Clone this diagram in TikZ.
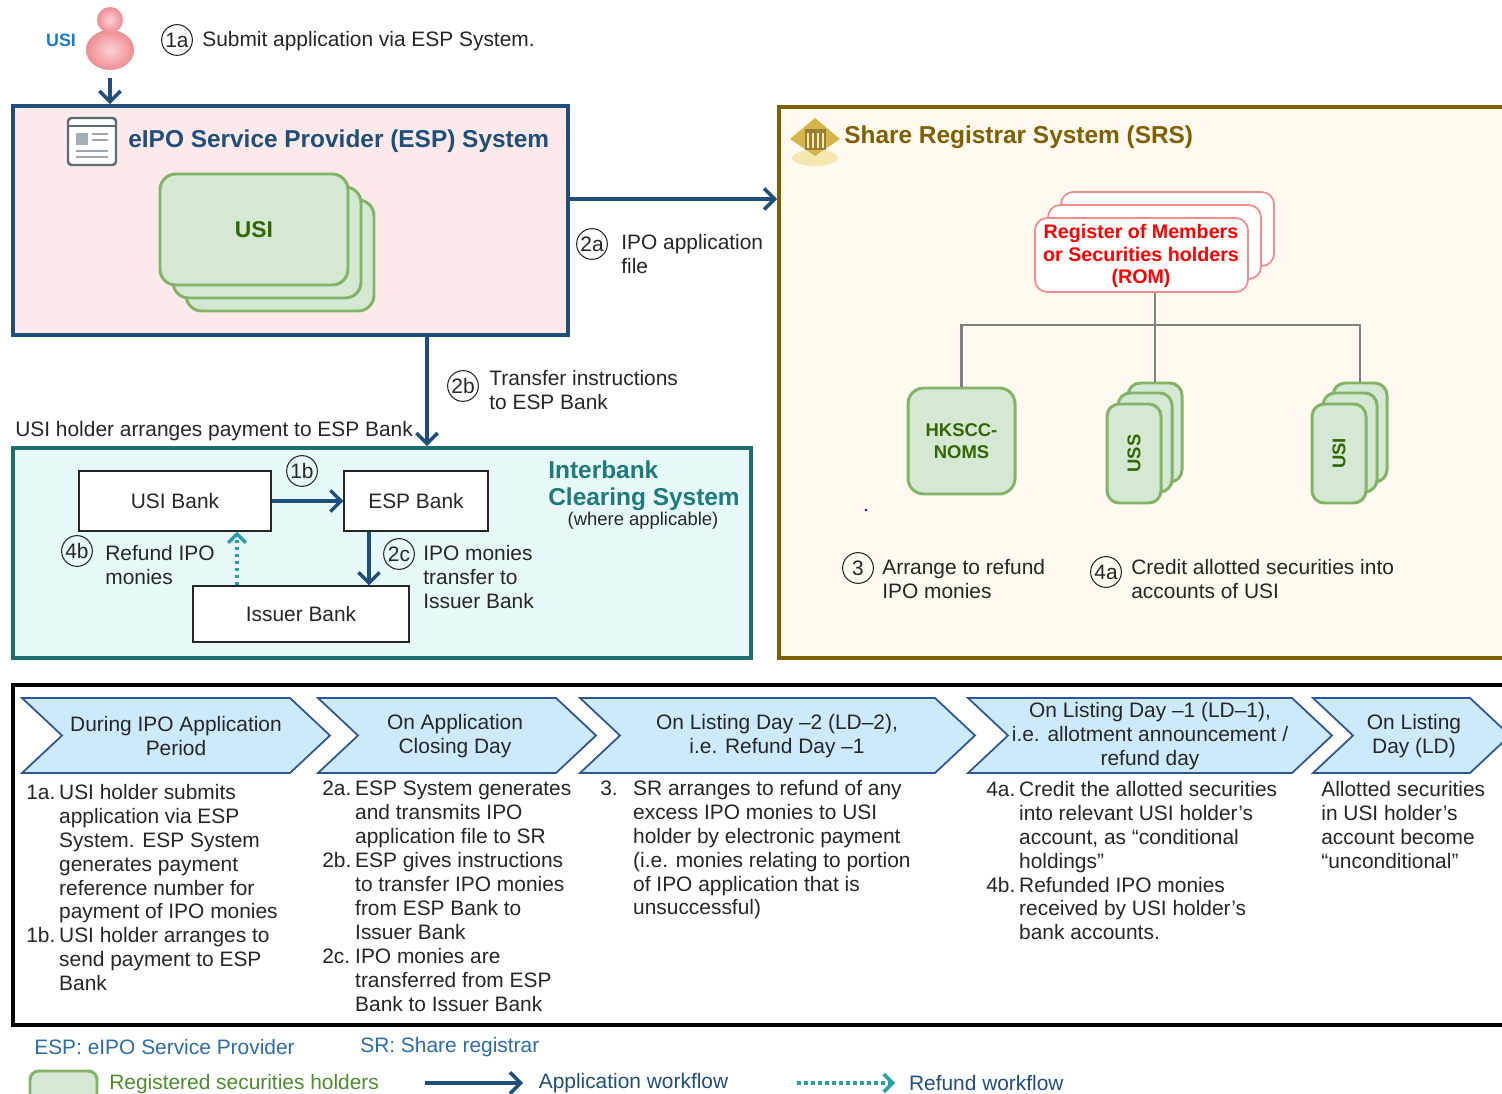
\documentclass[tikz,border=0pt]{standalone}
\usepackage{fontspec}
\setmainfont{Liberation Sans}
\usetikzlibrary{arrows.meta,fit}

\definecolor{espblue}{HTML}{1F4E79}
\definecolor{esppink}{HTML}{FDE9E9}
\definecolor{srsbrown}{HTML}{7F6000}
\definecolor{srscream}{HTML}{FFF9EF}
\definecolor{icteal}{HTML}{1E6E6E}
\definecolor{icfill}{HTML}{E7F8F8}
\definecolor{ictitle}{HTML}{1F7A7A}
\definecolor{reggreen}{HTML}{82B366}
\definecolor{regfill}{HTML}{D5E8D4}
\definecolor{regtext}{HTML}{336600}
\definecolor{romred}{HTML}{FF0000}
\definecolor{romline}{HTML}{F28C8C}
\definecolor{chevfill}{HTML}{CCEAFB}
\definecolor{chevline}{HTML}{2F5597}
\definecolor{refteal}{HTML}{26A0A6}
\definecolor{textgrey}{HTML}{262626}
\definecolor{usiblue}{HTML}{1F7BC4}
\definecolor{legblue}{HTML}{2E6DA4}
\definecolor{leggreen}{HTML}{4E8A2E}
\definecolor{treegrey}{HTML}{808080}
\definecolor{personpink}{HTML}{EE8C93}
\definecolor{personlight}{HTML}{FBD3D6}
\definecolor{icongrey}{HTML}{5B6B78}
\definecolor{gold}{HTML}{D6B548}
\definecolor{goldlight}{HTML}{F4E7B0}

\tikzset{
  txt/.style={font=\fontsize{11.9}{13.6}\selectfont, text=textgrey, inner sep=0pt},
  head/.style={font=\bfseries\fontsize{13.9}{15.3}\selectfont, inner sep=0pt},
  num/.style={circle, draw=textgrey, line width=0.6pt, minimum size=17.5pt, inner sep=0pt,
    font=\fontsize{11.9}{13.6}\selectfont, text=textgrey},
  appflow/.style={draw=espblue, line width=2pt, -{Straight Barb[length=6pt,width=12pt]}},
  refflow/.style={draw=refteal, line width=2pt, dotted, -{Straight Barb[length=5pt,width=10pt]}},
  espbox/.style={draw=espblue, fill=esppink, line width=2.2pt, inner sep=0pt},
  srsbox/.style={draw=srsbrown, fill=srscream, line width=2.2pt, inner sep=0pt},
  icbox/.style={draw=icteal, fill=icfill, line width=2.2pt, inner sep=0pt},
  bankbox/.style={draw=textgrey, fill=white, line width=0.6pt, inner sep=0pt},
  regbox/.style={draw=reggreen, fill=regfill, line width=1.7pt, rounded corners=9pt, inner sep=0pt},
  regtxt/.style={font=\bfseries\fontsize{10.5}{12.5}\selectfont, text=regtext, inner sep=0pt},
  rombox/.style={draw=romline, fill=white, line width=1pt, rounded corners=7pt, inner sep=0pt},
  tree/.style={draw=treegrey, line width=1.4pt},
  chev/.style={draw=chevline, fill=chevfill, line width=1pt},
  frame/.style={draw=black, line width=1.9pt, inner sep=0pt},
}
\newcommand\stepno[1]{\makebox[18.7pt][l]{#1}}
\newcommand\stepin{\hspace*{18.7pt}}

\begin{document}
\begin{tikzpicture}[x=0.02cm,y=-0.02cm]
\useasboundingbox (0,0) rectangle (1502,1094);
\clip (0,0) rectangle (1502,1094);
\fill[white] (0,0) rectangle (1502,1094);

% applicant
\node[font=\bfseries\fontsize{10.2}{12}\selectfont, text=usiblue] (usilbl) at (61,40) {USI};
\shade[inner color=personlight, outer color=personpink] (110,50) ellipse (24 and 20);
\shade[inner color=personlight, outer color=personpink] (110,20) circle (13);
\coordinate (usr) at (110,78);
\node[num] (n1a) at (177,40) {1a};
\node[txt, anchor=west] (t1a) at (202,41) {Submit application via ESP System.};

% ESP system
\node[espbox, fit={(13,106) (568,335)}] (esp) {};
\draw[appflow] (usr) -- (usr |- esp.north);
\draw[icongrey, fill=white, line width=1.4pt, rounded corners=2pt] (68,118) rectangle (116,165);
\draw[icongrey, line width=1pt] (68,126) -- (116,126);
\fill[icongrey!55] (76,133) rectangle (88,145);
\foreach \y in {134,140} \draw[icongrey!60, line width=1pt] (92,\y) -- (108,\y);
\foreach \y in {151,157} \draw[icongrey!60, line width=1pt] (76,\y) -- (108,\y);
\node[head, text=espblue, anchor=west] (esptitle) at (128,141) {eIPO Service Provider (ESP) System};
\foreach \d in {26,13} \draw[regbox] (160+\d,174+\d) rectangle (348+\d,285+\d);
\node[regbox, fit={(160,174) (348,285)}] (espusi) {};
\node[font=\bfseries\fontsize{13}{15}\selectfont, text=regtext] (espusilbl) at (espusi.center) {USI};

% share registrar system
\node[srsbox, fit={(779,107) (1530,658)}] (srs) {};
\fill[goldlight] (815,158) ellipse (23 and 8);
\fill[gold] (790,139) -- (815,118) -- (840,139) -- (815,156) -- cycle;
\fill[srsbrown!80] (805,129) rectangle (826,150);
\foreach \x in {808,813,818,823} \draw[goldlight, line width=0.6pt] (\x,133) -- (\x,148);
\node[head, text=srsbrown, anchor=west] (srstitle) at (844,137) {Share Registrar System (SRS)};
\foreach \d in {26,13} \draw[rombox] (1035+\d,218-\d) rectangle (1248+\d,292-\d);
\node[rombox, fit={(1035,218) (1248,292)}] (rom) {};
\node[align=center, font=\bfseries\fontsize{11.2}{13}\selectfont, text=romred, inner sep=0pt]
  (romlbl) at (1141,256) {Register of Members\\or Securities holders\\(ROM)};
\node[regbox, rounded corners=9pt, fit={(908,388) (1015,494)}] (hk) {};
\node[regtxt, align=center] (hklbl) at (hk.center) {HKSCC-\\NOMS};
\node[regbox, rounded corners=7pt, fit={(1128,383) (1182,482)}] (ussback) {};
\draw[regbox, rounded corners=7pt] (1118,393) rectangle (1172,492);
\node[regbox, rounded corners=7pt, fit={(1107,404) (1161,503)}] (ussfront) {};
\node[regtxt, rotate=90] (usslbl) at (ussfront) {USS};
\node[regbox, rounded corners=7pt, fit={(1333,383) (1387,482)}] (usiback) {};
\draw[regbox, rounded corners=7pt] (1323,393) rectangle (1377,492);
\node[regbox, rounded corners=7pt, fit={(1312,404) (1366,503)}] (usifront) {};
\node[regtxt, rotate=90] (usilbl2) at (usifront) {USI};
\coordinate (br) at (1155,325);
\draw[tree] (rom.south -| br) -- (br) -- (ussback.north -| br);
\draw[tree] (hk.north) |- (br) -| (usiback.north);
\fill[blue] (866,510) circle (1.3);
\node[num] (n3) at (858,568) {3};
\node[txt, anchor=west, align=left] (t3) at (882,579) {Arrange to refund\\IPO monies};
\node[num] (n4a) at (1106,572) {4a};
\node[txt, anchor=west, align=left] (t4a) at (1131,579) {Credit allotted securities into\\accounts of USI};

% ESP to SRS
\coordinate (a2) at (568,199);
\draw[appflow] (a2) -- (a2 -| srs.west);
\node[num] (n2a) at (592,244) {2a};
\node[txt, anchor=west, align=left] (t2a) at (621,254) {IPO application\\file};

% interbank clearing
\node[icbox, fit={(13,448) (751,658)}] (ic) {};
\coordinate (a2b) at (427,335);
\draw[appflow] (a2b) -- (a2b |- ic.north);
\node[num] (n2b) at (463,386) {2b};
\node[txt, anchor=west, align=left] (t2b) at (489,390) {Transfer instructions\\to ESP Bank};
\node[txt, anchor=west] (tpay) at (15,431) {USI holder arranges payment to ESP Bank};
\node[bankbox, fit={(79,471) (271,531)}] (usibank) {};
\node[txt] (usibanklbl) at (usibank.center) {USI Bank};
\node[bankbox, fit={(344,471) (488,531)}] (espbank) {};
\node[txt] (espbanklbl) at (espbank.center) {ESP Bank};
\node[bankbox, fit={(193,586) (409,642)}] (issuerbank) {};
\node[txt] (issuerbanklbl) at (issuerbank.center) {Issuer Bank};
\draw[appflow] (usibank) -- (espbank);
\draw[appflow] (espbank.south -| 369,0) -- (issuerbank.north -| 369,0);
\draw[refflow] (issuerbank.north -| 237,0) -- (usibank.south -| 237,0);
\node[num] (n1b) at (302,471) {1b};
\node[num] (n2c) at (399,554) {2c};
\node[txt, anchor=west, align=left] (t2c) at (423,577) {IPO monies\\transfer to\\Issuer Bank};
\node[num] (n4b) at (77,551) {4b};
\node[txt, anchor=west, align=left] (t4b) at (105,565) {Refund IPO\\monies};
\node[head, text=ictitle, anchor=north west, align=left, font=\bfseries\fontsize{13.9}{15.5}\selectfont]
  (ictitle) at (548,460) {Interbank\\Clearing System};
\node[txt, font=\fontsize{10.5}{12}\selectfont] (icnote) at (643,521) {(where applicable)};

% timeline
\node[frame, fit={(13,685) (1530,1025)}] (tl) {};
\foreach \l/\t in {22/330, 318/596, 580/975, 968/1332, 1313/1510}
  \draw[chev] (\l,698) -- (\t-40,698) -- (\t,735.5) -- (\t-40,773) -- (\l,773) -- (\l+40,735.5) -- cycle;
\node[txt, align=center] (ph1) at (176,736) {During IPO Application\\Period};
\node[txt, align=center] (ph2) at (455,736) {On Application\\Closing Day};
\node[txt, align=center] (ph3) at (777,736) {On Listing Day –2 (LD–2),\\i.e. Refund Day –1};
\node[txt, align=center] (ph4) at (1150,736) {On Listing Day –1 (LD–1),\\i.e. allotment announcement /\\refund day};
\node[txt, align=center] (ph5) at (1414,736) {On Listing\\Day (LD)};

\node[txt, anchor=north west, align=left] (col1) at (26,784)
  {\stepno{1a.}USI holder submits\\
   \stepin application via ESP\\
   \stepin System. ESP System\\
   \stepin generates payment\\
   \stepin reference number for\\
   \stepin payment of IPO monies\\
   \stepno{1b.}USI holder arranges to\\
   \stepin send payment to ESP\\
   \stepin Bank};
\node[txt, anchor=north west, align=left] (col2) at (322,781)
  {\stepno{2a.}ESP System generates\\
   \stepin and transmits IPO\\
   \stepin application file to SR\\
   \stepno{2b.}ESP gives instructions\\
   \stepin to transfer IPO monies\\
   \stepin from ESP Bank to\\
   \stepin Issuer Bank\\
   \stepno{2c.}IPO monies are\\
   \stepin transferred from ESP\\
   \stepin Bank to Issuer Bank};
\node[txt, anchor=north west, align=left] (col3) at (600,780)
  {\stepno{3.}SR arranges to refund of any\\
   \stepin excess IPO monies to USI\\
   \stepin holder by electronic payment\\
   \stepin (i.e. monies relating to portion\\
   \stepin of IPO application that is\\
   \stepin unsuccessful)};
\node[txt, anchor=north west, align=left] (col4) at (986,781)
  {\stepno{4a.}Credit the allotted securities\\
   \stepin into relevant USI holder’s\\
   \stepin account, as “conditional\\
   \stepin holdings”\\
   \stepno{4b.}Refunded IPO monies\\
   \stepin received by USI holder’s\\
   \stepin bank accounts.};
\node[txt, anchor=north west, align=left] (col5) at (1321,781)
  {Allotted securities\\in USI holder’s\\account become\\“unconditional”};

% legend
\node[txt, text=legblue, anchor=west] (lgesp) at (34,1047) {ESP: eIPO Service Provider};
\node[txt, text=legblue, anchor=west] (lgsr) at (360,1047) {SR: Share registrar};
\node[regbox, rounded corners=5pt, fit={(30,1071) (97,1104)}] (lgbox) {};
\node[txt, text=leggreen, anchor=west] (lgreg) at (109,1084) {Registered securities holders};
\coordinate (lga) at (425,1083);
\draw[appflow] (lga) -- ++(98,0) node[txt, text=espblue, anchor=west, xshift=8pt] (lgapp) {Application workflow};
\coordinate (lgr) at (797,1083);
\draw[refflow] (lgr) -- ++(98,0) node[txt, text=espblue, anchor=west, xshift=7pt] (lgref) {Refund workflow};
\end{tikzpicture}
\end{document}
